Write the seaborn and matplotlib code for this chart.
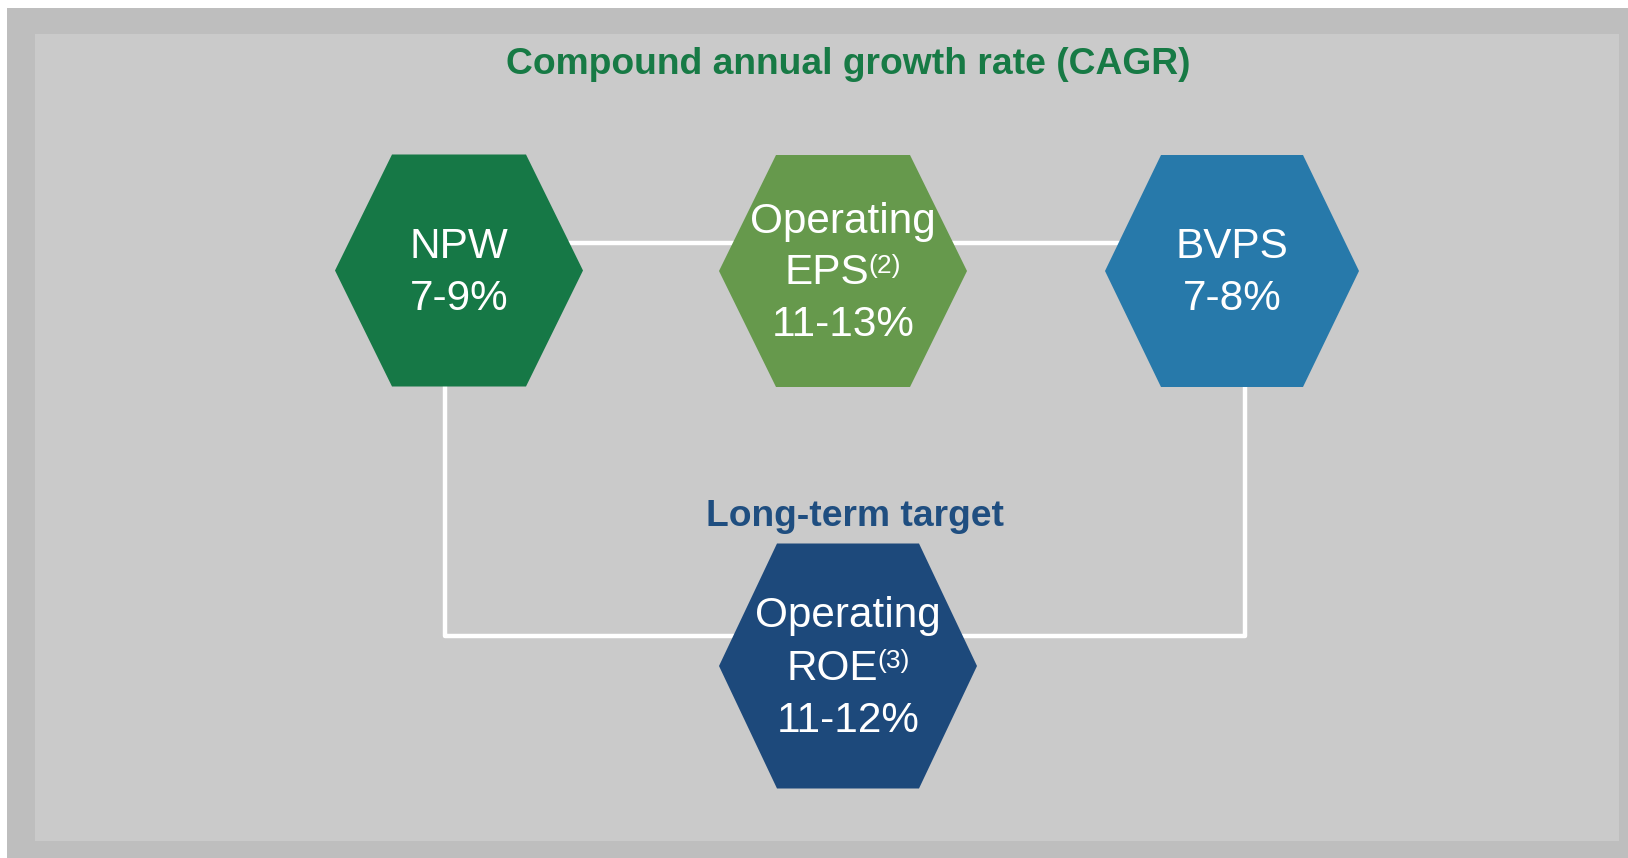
import matplotlib
matplotlib.use("Agg")
import matplotlib.pyplot as plt
import pandas as pd
import seaborn as sns
from matplotlib.patches import Polygon, Rectangle

# chart content
title = "Compound annual growth rate (CAGR)"
subtitle = "Long-term target"
metric_lines = [["NPW"], ["Operating", "EPS"], ["BVPS"], ["Operating", "ROE"]]
footnotes = ["", "(2)", "", "(3)"]
ranges = ["7-9%", "11-13%", "7-8%", "11-12%"]
hex_colors = ["#167846", "#66994c", "#2779aa", "#1d497b"]

# layout in pixels (figure is 1628x858, y grows downward)
W, H = 1628, 858
hex_cx = [459, 843, 1232, 848]
hex_cy = [270.5, 271, 271, 666]
hex_half_w = [124, 124, 127, 129]
hex_half_top = [67, 67, 71, 71]
hex_half_h = [116, 116, 116, 122.5]
line_step = 52
cap_half = 13.5
text_size = 30.4
sup_size = 19
sup_raise = 11.5
sup_gap = -1

connectors = pd.DataFrame({
    "x": [459, 1232, 445, 445, 1245, 1245],
    "y": [243, 243, 386, 635.5, 635.5, 386],
    "seg": [0, 0, 1, 1, 1, 1],
})

sns.set_theme(style="white")
plt.rcParams["font.family"] = ["Liberation Sans", "DejaVu Sans"]

fig = plt.figure(figsize=(W / 100, H / 100), dpi=100)
fig.patch.set_facecolor("white")
ax = fig.add_axes([0, 0, 1, 1])
ax.set_xlim(0, W)
ax.set_ylim(H, 0)
ax.axis("off")

ax.add_patch(Rectangle((7, 8), W - 7, H - 8, facecolor="#bebebe", edgecolor="none", zorder=0))
ax.add_patch(Rectangle((35, 34), 1619 - 35, 841 - 34, facecolor="#cacaca", edgecolor="none", zorder=0.5))

sns.lineplot(data=connectors, x="x", y="y", units="seg", estimator=None, sort=False,
             color="white", linewidth=3.2, legend=False, ax=ax, zorder=1)
ax.set_xlim(0, W)
ax.set_ylim(H, 0)
ax.set_xlabel("")
ax.set_ylabel("")

renderer = fig.canvas.get_renderer()


def text_width(s, size):
    t = ax.text(0, 0, s, fontsize=size)
    w = t.get_window_extent(renderer).width
    t.remove()
    return w


for i in range(len(ranges)):
    cx, cy = hex_cx[i], hex_cy[i]
    hw, ht, hh = hex_half_w[i], hex_half_top[i], hex_half_h[i]
    verts = [(cx - hw, cy), (cx - ht, cy - hh), (cx + ht, cy - hh),
             (cx + hw, cy), (cx + ht, cy + hh), (cx - ht, cy + hh)]
    ax.add_patch(Polygon(verts, closed=True, facecolor=hex_colors[i], edgecolor="none", zorder=2))

    lines = metric_lines[i] + [ranges[i]]
    n = len(lines)
    for j, txt in enumerate(lines):
        y = cy + (j - (n - 1) / 2) * line_step + cap_half
        sup = footnotes[i] if j == len(metric_lines[i]) - 1 else ""
        if sup:
            w_main = text_width(txt, text_size)
            w_sup = text_width(sup, sup_size)
            x0 = cx - (w_main + w_sup + sup_gap) / 2
            ax.text(x0, y, txt, color="white", fontsize=text_size, ha="left", va="baseline", zorder=3)
            ax.text(x0 + w_main + sup_gap, y - sup_raise, sup, color="white", fontsize=sup_size,
                    ha="left", va="baseline", zorder=3)
        else:
            ax.text(cx, y, txt, color="white", fontsize=text_size, ha="center", va="baseline", zorder=3)

ax.text(848, 74.5, title, color="#177a45", fontsize=26.8, fontweight="bold",
        ha="center", va="baseline", zorder=3)
ax.text(855.5, 525.5, subtitle, color="#1f4e80", fontsize=26.8, fontweight="bold",
        ha="center", va="baseline", zorder=3)

fig.savefig("out.png", dpi=100, facecolor=fig.get_facecolor())
